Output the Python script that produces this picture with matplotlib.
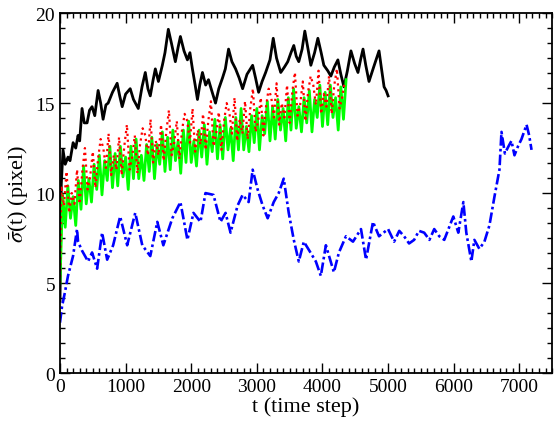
import numpy as np
import matplotlib
matplotlib.use("Agg")
import matplotlib.pyplot as plt
from matplotlib.ticker import MultipleLocator

plt.rcParams['font.family'] = ['Liberation Serif', 'DejaVu Serif']
plt.rcParams['mathtext.fontset'] = 'stix'

# black curve
black_t = [0, 20, 46, 80, 122, 153, 200, 240, 275, 300, 336, 370, 413, 450, 489, 530,
           581, 620, 657, 700, 734, 800, 871, 910, 948, 1000, 1070, 1120, 1193, 1250,
           1300, 1340, 1376, 1420, 1453, 1500, 1560, 1600, 1651, 1700, 1758, 1800, 1835,
           1890, 1942, 1980, 2018, 2060, 2095, 2130, 2171, 2220, 2263, 2320, 2370, 2420,
           2477, 2520, 2569, 2620, 2676, 2730, 2783, 2850, 2936, 2980, 3027, 3080, 3134,
           3200, 3250, 3300, 3364, 3420, 3471, 3520, 3563, 3600, 3639, 3690, 3731, 3780,
           3823, 3880, 3930, 3980, 4021, 4080, 4128, 4180, 4235, 4280, 4327, 4380, 4434,
           4490, 4541, 4580, 4618, 4660, 4709, 4780, 4862, 4900, 4939, 4970, 5000]
black_v = [4.0, 10.5, 12.4, 11.6, 12.0, 11.8, 12.8, 12.5, 13.2, 12.9, 14.7, 13.9, 13.9, 14.6,
           14.8, 14.3, 15.7, 15.0, 14.1, 14.9, 15.0, 15.6, 16.1, 15.4, 14.8, 15.5, 15.8,
           15.2, 14.7, 15.9, 16.7, 15.8, 15.4, 16.3, 16.9, 16.2, 17.1, 17.8, 19.1, 18.3,
           17.3, 18.1, 18.7, 17.9, 17.4, 17.8, 16.9, 16.0, 15.2, 16.0, 16.7, 16.0, 16.3,
           15.6, 15.0, 15.8, 16.4, 16.9, 18.0, 17.3, 16.9, 16.4, 15.8, 16.6, 17.1, 16.4,
           15.6, 16.2, 16.7, 17.4, 18.6, 17.5, 16.7, 17.0, 17.3, 17.8, 18.2, 17.6, 17.3,
           18.0, 19.0, 18.0, 17.1, 17.8, 18.6, 17.8, 17.1, 16.8, 16.5, 17.0, 17.4, 16.6,
           15.9, 16.8, 17.9, 17.2, 16.7, 17.4, 18.0, 17.1, 16.2, 17.0, 17.9, 16.9, 15.9,
           15.7, 15.4]

# green curve, sampled every 40 steps
green_t = np.arange(0, 4361, 40)
green_v = [5.0, 9.9, 8.1, 10.4, 8.6, 9.8, 8.2, 10.7, 9.1, 11.5, 9.4, 10.8, 9.5, 11.6, 10.2,
           12.1, 9.9, 11.8, 10.7, 12.6, 10.3, 12.2, 10.4, 12.6, 10.9, 12.0, 10.2, 12.6,
           10.8, 13.0, 10.8, 12.1, 10.7, 12.7, 11.2, 13.1, 10.8, 12.7, 11.6, 13.4, 11.2,
           13.1, 11.3, 13.5, 11.8, 12.9, 11.1, 13.5, 11.7, 14.0, 11.7, 12.9, 11.5, 13.5,
           12.0, 13.8, 11.6, 13.4, 12.3, 14.1, 11.9, 13.8, 11.9, 14.2, 12.4, 13.6, 11.8,
           14.2, 12.4, 14.7, 12.4, 13.7, 12.3, 14.3, 12.8, 14.7, 12.4, 14.3, 13.3, 15.1,
           12.9, 14.8, 13.0, 15.2, 13.5, 14.7, 12.9, 15.3, 13.5, 15.8, 13.6, 14.8, 13.4,
           15.3, 13.9, 15.7, 13.4, 15.2, 14.2, 16.0, 13.7, 15.6, 13.8, 16.0, 14.2, 15.3,
           13.5, 15.9, 14.1, 16.3]

# red dotted curve, sampled every 40 steps (shifted by 20)
red_t = np.concatenate([[0], np.arange(20, 4341, 40)])
red_v = [5.0, 10.4, 9.3, 11.2, 8.9, 10.0, 9.4, 11.3, 9.4, 11.2, 12.5, 10.2, 10.9, 12.3, 10.3,
         11.9, 13.0, 12.5, 11.4, 13.3, 11.0, 12.1, 11.3, 13.1, 11.0, 12.6, 13.8, 11.3,
         12.0, 13.2, 11.1, 12.7, 13.6, 13.2, 12.1, 14.1, 11.7, 12.9, 12.1, 13.8, 11.8,
         13.4, 14.6, 12.1, 12.8, 14.0, 11.9, 13.5, 14.4, 14.0, 12.8, 14.7, 12.3, 13.5,
         12.7, 14.4, 12.4, 14.0, 15.1, 12.6, 13.3, 14.5, 12.4, 14.0, 15.0, 14.5, 13.3,
         15.3, 12.9, 14.1, 13.3, 15.1, 13.0, 14.7, 15.8, 13.4, 14.0, 15.3, 13.2, 14.8,
         15.8, 15.3, 14.2, 16.1, 13.8, 15.0, 14.2, 16.0, 13.9, 15.6, 16.7, 14.3, 14.9,
         16.2, 14.0, 15.6, 16.5, 16.0, 14.9, 16.8, 14.4, 15.5, 14.8, 16.5, 14.4, 16.0,
         16.9, 14.7, 15.3, 16.2]

# blue dash-dot curve
blue_t = [0, 31, 76, 122, 199, 260, 275, 336, 382, 428, 489, 566, 642, 719, 810, 917, 1024,
          1147, 1254, 1376, 1483, 1575, 1712, 1835, 1942, 2034, 2141, 2217, 2339, 2446,
          2523, 2599, 2706, 2783, 2875, 2936, 3012, 3089, 3165, 3257, 3333, 3410, 3486,
          3563, 3639, 3716, 3800, 3899, 3975, 4052, 4174, 4251, 4358, 4465, 4587, 4664,
          4770, 4862, 5000, 5092, 5170, 5244, 5320, 5397, 5470, 5550, 5630, 5703, 5780,
          5856, 5994, 6070, 6147, 6192, 6269, 6315, 6391, 6468, 6544, 6621, 6697, 6728,
          6780, 6835, 6880, 6926, 6980, 7033, 7110, 7150, 7186]
blue_v = [2.8, 3.7, 4.5, 5.4, 6.5, 8.0, 7.3, 6.8, 6.5, 6.2, 6.7, 5.8, 7.8, 6.3, 7.1, 8.7, 7.1,
          8.9, 7.1, 6.5, 8.4, 7.1, 8.6, 9.5, 7.4, 8.9, 8.4, 10.0, 9.9, 8.4, 8.9, 7.8, 9.3,
          9.9, 9.5, 11.3, 10.2, 9.3, 8.6, 9.5, 10.0, 10.8, 8.9, 7.4, 6.2, 7.3, 6.8, 6.2,
          5.4, 7.1, 5.6, 6.7, 7.6, 7.3, 8.0, 6.3, 8.4, 7.6, 8.0, 7.3, 7.9, 7.6, 7.2, 7.4,
          7.9, 7.8, 7.4, 8.0, 7.6, 7.4, 8.7, 7.8, 9.5, 7.8, 6.2, 7.4, 6.9, 7.3, 8.2, 9.8,
          11.3, 13.4, 12.2, 12.6, 12.9, 12.1, 12.6, 13.0, 13.8, 13.2, 12.4]

fig = plt.figure(figsize=(5.58, 4.27), dpi=100)
ax = fig.add_axes([0.1075, 0.124, 0.882, 0.843])

ax.plot(black_t, black_v, color='black', lw=2.0)
ax.plot(green_t, green_v, color='#00ff00', lw=2.0)
ax.plot(red_t, red_v, color='#ff0000', lw=1.6, linestyle=':')
ax.plot(blue_t, blue_v, color='#0000ff', lw=1.9, linestyle=(0, (4, 1.2, 1, 1.2)))

ax.set_xlim(0, 7500)
ax.set_ylim(0, 20)
ax.xaxis.set_major_locator(MultipleLocator(1000))
ax.xaxis.set_minor_locator(MultipleLocator(100))
ax.yaxis.set_major_locator(MultipleLocator(5))
ax.yaxis.set_minor_locator(MultipleLocator(5 / 6))
ax.tick_params(which='both', direction='in', top=True, right=True, labelsize=14, width=1)
ax.tick_params(which='major', length=7)
ax.tick_params(which='minor', length=3.5)
for s in ax.spines.values():
    s.set_linewidth(1.3)

ax.set_xlabel('t (time step)', fontsize=16, labelpad=1)
ax.set_ylabel(r'$\bar{\sigma}$(t) (pixel)', fontsize=16, labelpad=4)

fig.savefig('out.png', dpi=100)
